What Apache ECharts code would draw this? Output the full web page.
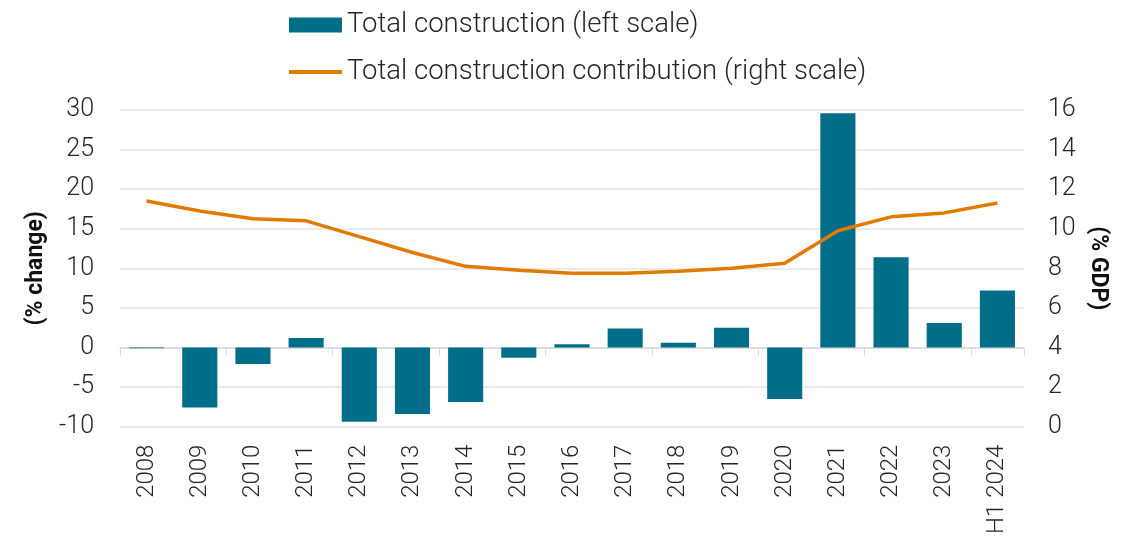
<!DOCTYPE html>
<html>
<head>
<meta charset="utf-8">
<script src="https://cdn.jsdelivr.net/npm/echarts@6/dist/echarts.min.js"></script>
<style>
  html, body { margin: 0; padding: 0; background: #fff; }
  #chart { width: 1130px; height: 537px; }
</style>
</head>
<body>
<div id="chart"></div>
<script>
// data
var years = ['2008', '2009', '2010', '2011', '2012', '2013', '2014', '2015', '2016',
    '2017', '2018', '2019', '2020', '2021', '2022', '2023', 'H1 2024'];
var constructionChange = [-0.1, -7.6, -2.1, 1.2, -9.4, -8.4, -6.9, -1.3, 0.4,
    2.4, 0.6, 2.5, -6.5, 29.6, 11.4, 3.1, 7.2];
var constructionGdp = [11.4, 10.9, 10.5, 10.4, 9.6, 8.8, 8.1, 7.9, 7.75,
    7.75, 7.85, 8.0, 8.25, 9.9, 10.6, 10.8, 11.3];

var FONT = 'Roboto';
var TEXT = '#262626';
var TEAL = '#006e89';
var ORANGE = '#e07b00';

var chart = echarts.init(document.getElementById('chart'));

var option = {
    animation: false,
    legend: {
        orient: 'vertical',
        left: 284,
        top: 5,
        itemWidth: 53,
        itemHeight: 15,
        itemGap: 17,
        symbolKeepAspect: true,
        textStyle: { fontFamily: FONT, fontWeight: 300, fontSize: 27.5, lineHeight: 30, color: TEXT, padding: [0, 0, 0, 0] },
        data: [
            { name: 'Total construction (left scale)', icon: 'rect' },
            { name: 'Total construction contribution (right scale)', icon: 'path://M0,0H53V4H0Z',
              itemStyle: { color: ORANGE, borderWidth: 0 } }
        ]
    },
    grid: {
        left: 120,
        right: 106,
        top: 110,
        bottom: 109
    },
    xAxis: [{
        type: 'category',
        data: years,
        axisLine: { show: false, onZero: false },
        axisTick: { show: false },
        axisLabel: {
            rotate: 90,
            margin: 18,
            fontFamily: FONT,
            fontWeight: 300,
            fontSize: 24,
            color: TEXT
        }
    }, {
        // the zero line with the category ticks
        type: 'category',
        data: years,
        position: 'bottom',
        axisLine: { show: true, onZero: true, lineStyle: { color: '#d9d9d9', width: 1.5 } },
        axisTick: { show: true, length: 8, lineStyle: { color: '#d9d9d9' } },
        axisLabel: { show: false }
    }],
    yAxis: [{
        type: 'value',
        min: -10,
        max: 30,
        interval: 5,
        name: '(% change)',
        nameLocation: 'middle',
        nameGap: 70,
        nameTextStyle: { fontFamily: FONT, fontWeight: 'bold', fontSize: 23, color: '#111' },
        axisLine: { show: false },
        axisTick: { show: false },
        axisLabel: { margin: 26, fontFamily: FONT, fontWeight: 300, fontSize: 25, color: TEXT },
        splitLine: { lineStyle: { color: '#e3e3e3', width: 1.5 } }
    }, {
        type: 'value',
        min: 0,
        max: 16,
        interval: 2,
        name: '(% GDP)',
        nameLocation: 'middle',
        nameGap: 62,
        nameRotate: -90,
        nameTextStyle: { fontFamily: FONT, fontWeight: 'bold', fontSize: 23, color: '#111' },
        axisLine: { show: false },
        axisTick: { show: false },
        axisLabel: { margin: 24, fontFamily: FONT, fontWeight: 300, fontSize: 25, color: TEXT },
        splitLine: { show: false }
    }],
    series: [{
        name: 'Total construction (left scale)',
        type: 'bar',
        xAxisIndex: 0,
        yAxisIndex: 0,
        data: constructionChange,
        barWidth: '66%',
        itemStyle: { color: TEAL }
    }, {
        name: 'Total construction contribution (right scale)',
        type: 'line',
        xAxisIndex: 0,
        yAxisIndex: 1,
        data: constructionGdp,
        symbol: 'none',
        lineStyle: { color: ORANGE, width: 3.5 },
        itemStyle: { color: ORANGE },
        z: 3
    }]
};

chart.setOption(option);
</script>
</body>
</html>
